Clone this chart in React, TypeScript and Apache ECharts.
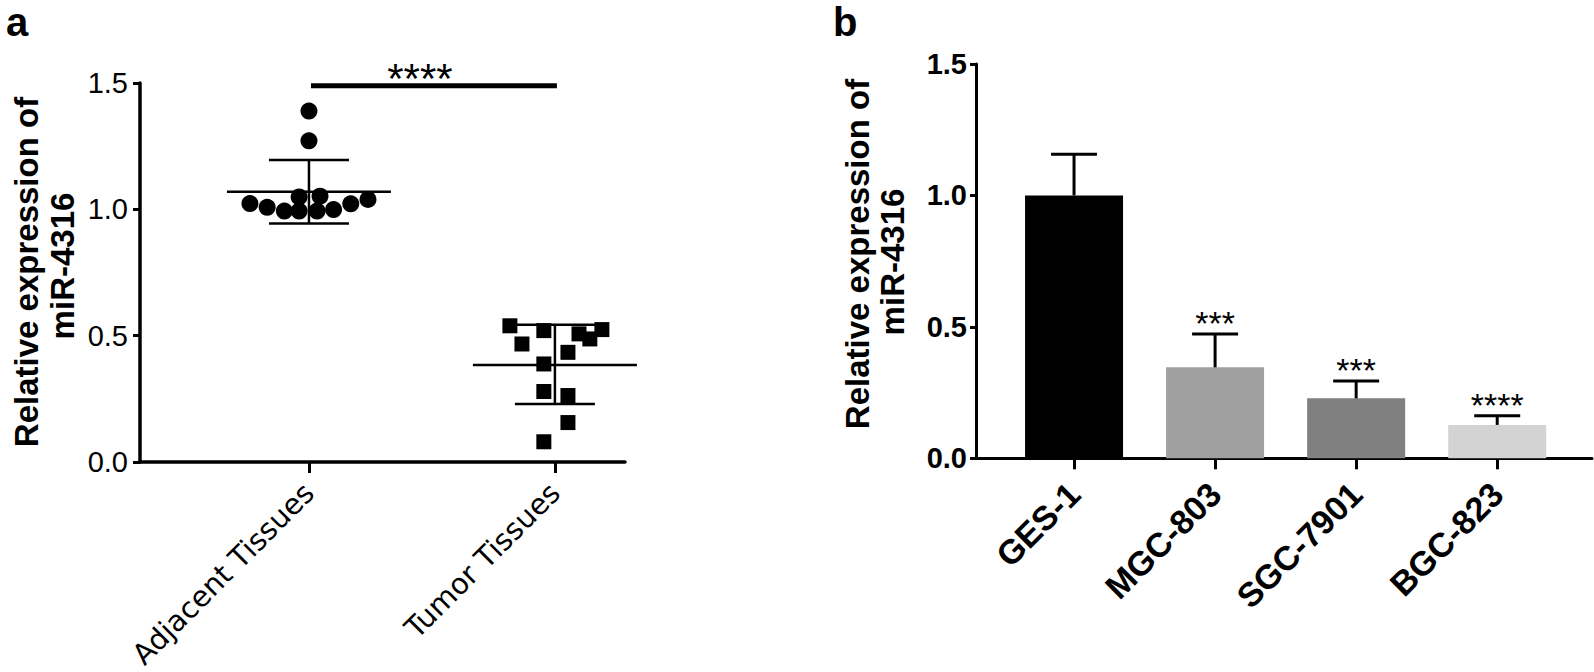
import React, { useEffect, useRef } from "react";
import * as echarts from "echarts";

// ---------- Panel a data ----------
const groupsA = ["Adjacent Tissues", "Tumor Tissues"];
const groupPosA = [1, 2];
const adjacentX = [1, 1, 0.76, 0.83, 0.9, 0.96, 0.96, 1.045, 1.033, 1.1, 1.17, 1.24];
const adjacentY = [1.389, 1.271, 1.023, 1.008, 0.993, 1.049, 0.993, 1.052, 0.993, 0.999, 1.022, 1.039];
const tumorX = [1.817, 1.866, 1.955, 1.955, 1.955, 1.955, 2.053, 2.053, 2.053, 2.098, 2.142, 2.191];
const tumorY = [0.539, 0.467, 0.52, 0.388, 0.279, 0.08, 0.434, 0.263, 0.156, 0.507, 0.487, 0.524];
const meanA = [1.07, 0.384];
const lowerA = [0.944, 0.229];
const upperA = [1.195, 0.543];
const sigA = "****";
const sigLevelA = 1.489;

// ---------- Panel b data ----------
const cellLines = ["GES-1", "MGC-803", "SGC-7901", "BGC-823"];
const cellPos = [1, 2, 3, 4];
const barValues = [1.0, 0.346, 0.228, 0.127];
const barUpper = [1.157, 0.473, 0.294, 0.162];
const barColors = ["#000000", "#a0a0a0", "#808080", "#d3d3d3"];
const sigB = ["", "***", "***", "****"];

export default function App() {
  const ref = useRef<HTMLDivElement>(null);
  useEffect(() => {
    document.body.style.margin = "0";
    const chart = echarts.init(ref.current!, null, { renderer: "svg" });
    const sans = "'Liberation Sans', Arial, sans-serif";

    const option: any = {
      animation: false,
      backgroundColor: "#ffffff",
      grid: [
        { left: 140, top: 83, width: 485, height: 380.5 },
        { left: 976, top: 64, width: 616, height: 394.3 },
      ],
      xAxis: [
        {
          type: "value",
          gridIndex: 0,
          min: 0.313,
          max: 2.285,
          splitLine: { show: false },
          axisLine: { show: true, onZero: false, lineStyle: { color: "#000", width: 3.5 } },
          axisTick: { show: true, customValues: groupPosA, length: 11, lineStyle: { color: "#000", width: 3 } },
          axisLabel: {
            show: true,
            customValues: groupPosA,
            rotate: 45,
            margin: 26,
            color: "#000",
            fontSize: 29,
            fontFamily: "'DejaVu Sans', Verdana, sans-serif",
            formatter: (v: number) => groupsA[groupPosA.indexOf(Math.round(v))] ?? "",
          },
        },
        {
          type: "value",
          gridIndex: 1,
          min: 0.305,
          max: 4.672,
          splitLine: { show: false },
          axisLine: { show: true, onZero: false, lineStyle: { color: "#000", width: 3 } },
          axisTick: { show: true, customValues: cellPos, length: 11, lineStyle: { color: "#000", width: 3 } },
          axisLabel: {
            show: true,
            customValues: cellPos,
            rotate: 45,
            margin: 30,
            color: "#000",
            fontSize: 34,
            fontWeight: "bold",
            fontFamily: sans,
            formatter: (v: number) => cellLines[cellPos.indexOf(Math.round(v))] ?? "",
          },
        },
      ],
      yAxis: [
        {
          type: "value",
          gridIndex: 0,
          min: 0,
          max: 1.5,
          interval: 0.5,
          splitLine: { show: false },
          axisLine: { show: true, lineStyle: { color: "#000", width: 3.5 } },
          axisTick: { show: true, length: 7, lineStyle: { color: "#000", width: 3 } },
          axisLabel: {
            margin: 12,
            color: "#000",
            fontSize: 29,
            fontFamily: sans,
            formatter: (v: number) => v.toFixed(1),
          },
        },
        {
          type: "value",
          gridIndex: 1,
          min: 0,
          max: 1.5,
          interval: 0.5,
          splitLine: { show: false },
          axisLine: { show: true, lineStyle: { color: "#000", width: 3 } },
          axisTick: { show: true, length: 6, lineStyle: { color: "#000", width: 3 } },
          axisLabel: {
            margin: 9,
            color: "#000",
            fontSize: 29,
            fontWeight: "bold",
            fontFamily: sans,
            formatter: (v: number) => v.toFixed(1),
          },
        },
      ],
      series: [
        {
          type: "scatter",
          xAxisIndex: 0,
          yAxisIndex: 0,
          symbol: "circle",
          symbolSize: 17,
          itemStyle: { color: "#000", opacity: 1 },
          data: adjacentX.map((x, i) => [x, adjacentY[i]]),
          z: 3,
        },
        {
          type: "scatter",
          xAxisIndex: 0,
          yAxisIndex: 0,
          symbol: "rect",
          symbolSize: 15,
          itemStyle: { color: "#000", opacity: 1 },
          data: tumorX.map((x, i) => [x, tumorY[i]]),
          z: 3,
        },
        {
          type: "custom",
          xAxisIndex: 0,
          yAxisIndex: 0,
          z: 4,
          data: groupPosA.map((p, i) => [p, meanA[i], lowerA[i], upperA[i]]),
          renderItem: (params: any, api: any) => {
            const x = api.value(0);
            const m = api.coord([x, api.value(1)]);
            const lo = api.coord([x, api.value(2)]);
            const hi = api.coord([x, api.value(3)]);
            const st = { stroke: "#000", lineWidth: 2.5 };
            return {
              type: "group",
              children: [
                { type: "line", shape: { x1: m[0] - 82, y1: m[1], x2: m[0] + 82, y2: m[1] }, style: st },
                { type: "line", shape: { x1: lo[0], y1: lo[1], x2: hi[0], y2: hi[1] }, style: st },
                { type: "line", shape: { x1: hi[0] - 40, y1: hi[1], x2: hi[0] + 40, y2: hi[1] }, style: st },
                { type: "line", shape: { x1: lo[0] - 40, y1: lo[1], x2: lo[0] + 40, y2: lo[1] }, style: st },
              ],
            };
          },
        },
        {
          type: "custom",
          xAxisIndex: 0,
          yAxisIndex: 0,
          z: 4,
          data: [[groupPosA[0], groupPosA[1], sigLevelA]],
          renderItem: (params: any, api: any) => {
            const p1 = api.coord([api.value(0), api.value(2)]);
            const p2 = api.coord([api.value(1), api.value(2)]);
            return {
              type: "group",
              children: [
                { type: "line", shape: { x1: p1[0] + 2, y1: p1[1], x2: p2[0] + 2, y2: p2[1] }, style: { stroke: "#000", lineWidth: 5 } },
                {
                  type: "text",
                  style: {
                    text: sigA,
                    x: (p1[0] + p2[0]) / 2 - 12,
                    y: p1[1] - 7,
                    textAlign: "center",
                    textVerticalAlign: "middle",
                    fontSize: 42,
                    fontFamily: sans,
                    fill: "#000",
                  },
                },
              ],
            };
          },
        },
        {
          type: "bar",
          xAxisIndex: 1,
          yAxisIndex: 1,
          barWidth: 98,
          data: cellPos.map((p, i) => ({ value: [p, barValues[i]], itemStyle: { color: barColors[i] } })),
          z: 2,
        },
        {
          type: "custom",
          xAxisIndex: 1,
          yAxisIndex: 1,
          z: 4,
          data: cellPos.map((p, i) => [p, barValues[i], barUpper[i]]),
          renderItem: (params: any, api: any) => {
            const x = api.value(0);
            const top = api.coord([x, api.value(1)]);
            const hi = api.coord([x, api.value(2)]);
            const st = { stroke: "#000", lineWidth: 3 };
            const children: any[] = [
              { type: "line", shape: { x1: top[0], y1: top[1], x2: hi[0], y2: hi[1] }, style: st },
              { type: "line", shape: { x1: hi[0] - 23, y1: hi[1], x2: hi[0] + 23, y2: hi[1] }, style: st },
            ];
            const label = sigB[params.dataIndex];
            if (label) {
              children.push({
                type: "text",
                style: {
                  text: label,
                  x: hi[0],
                  y: hi[1] - 11,
                  textAlign: "center",
                  textVerticalAlign: "middle",
                  fontSize: 34,
                  fontFamily: sans,
                  fill: "#000",
                },
              });
            }
            return { type: "group", children };
          },
        },
      ],
      graphic: [
        { type: "text", left: 6, top: 2, style: { text: "a", fontSize: 40, fontWeight: "bold", fontFamily: sans, fill: "#000" } },
        { type: "text", left: 833, top: 2, style: { text: "b", fontSize: 40, fontWeight: "bold", fontFamily: sans, fill: "#000" } },
        {
          type: "text", x: 26, y: 272, rotation: Math.PI / 2,
          style: { text: "Relative expression of", textAlign: "center", textVerticalAlign: "middle", fontSize: 33, fontWeight: "bold", fontFamily: sans, fill: "#000" },
        },
        {
          type: "text", x: 62, y: 266, rotation: Math.PI / 2,
          style: { text: "miR-4316", textAlign: "center", textVerticalAlign: "middle", fontSize: 33, fontWeight: "bold", fontFamily: sans, fill: "#000" },
        },
        {
          type: "text", x: 857, y: 254, rotation: Math.PI / 2,
          style: { text: "Relative expression of", textAlign: "center", textVerticalAlign: "middle", fontSize: 33, fontWeight: "bold", fontFamily: sans, fill: "#000" },
        },
        {
          type: "text", x: 892, y: 262, rotation: Math.PI / 2,
          style: { text: "miR-4316", textAlign: "center", textVerticalAlign: "middle", fontSize: 33, fontWeight: "bold", fontFamily: sans, fill: "#000" },
        },
      ],
    };
    chart.setOption(option);
    return () => chart.dispose();
  }, []);
  return <div ref={ref} style={{ width: 1594, height: 672 }} />;
}
